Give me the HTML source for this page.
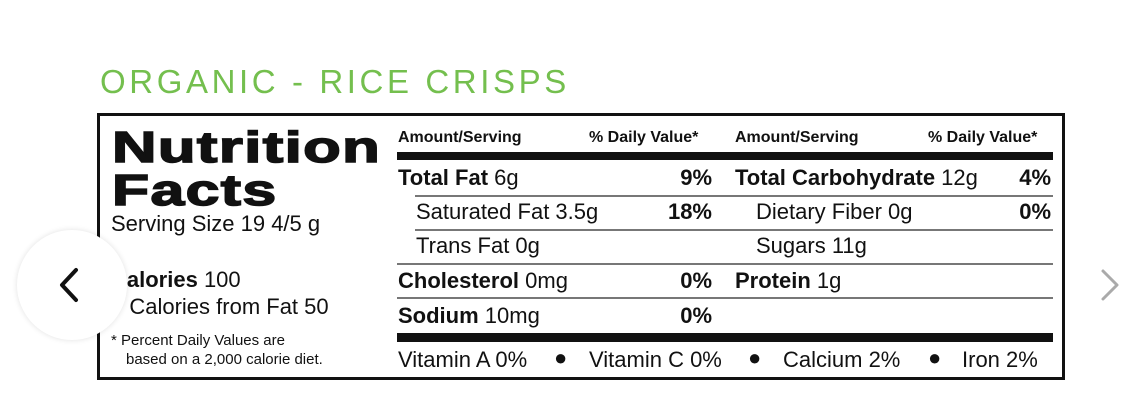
<!DOCTYPE html>
<html><head><meta charset="utf-8"><style>
*{margin:0;padding:0;box-sizing:border-box}
body{width:1142px;height:416px;background:#fff;position:relative;overflow:hidden;font-family:"Liberation Sans Narrow","Liberation Sans",sans-serif;color:#111}
.a{position:absolute;white-space:nowrap;line-height:1}
.t{font-family:"Liberation Sans",sans-serif;font-size:33px;color:#74bf4e;letter-spacing:3.6px;left:100px;top:65px}
.box{position:absolute;left:97px;top:113px;width:968px;height:267px;border:3px solid #111}
.hl{position:absolute;background:#111}
.r{font-size:22px}
.b{font-weight:bold}
.h{font-size:16px;font-weight:bold}
.big{font-family:"Liberation Sans",sans-serif;font-weight:900;font-size:44px;transform-origin:0 0;-webkit-text-stroke:1.5px #111;letter-spacing:1px}
.pr{text-align:right;width:80px}
</style></head><body>
<div class="a t">ORGANIC - RICE CRISPS</div>
<div class="box"></div>
<div class="a big" style="left:112px;top:126px;transform:scaleX(1.40)">Nutrition</div>
<div class="a big" style="left:112px;top:169px;transform:scaleX(1.38)">Facts</div>
<div class="a r" style="left:111px;top:213px">Serving Size 19 4/5 g</div>
<div class="a r" style="left:111px;top:269px"><span class="b">Calories</span> 100</div>
<div class="a r" style="left:111px;top:296px">&nbsp;&nbsp;&nbsp;Calories from Fat 50</div>
<div class="a" style="left:111px;top:333px;font-size:15px">* Percent Daily Values are</div>
<div class="a" style="left:126px;top:352px;font-size:15px">based on a 2,000 calorie diet.</div>

<div class="a h" style="left:398px;top:130px">Amount/Serving</div>
<div class="a h" style="left:589px;top:130px">% Daily Value*</div>
<div class="a h" style="left:735px;top:130px">Amount/Serving</div>
<div class="a h" style="left:928px;top:130px">% Daily Value*</div>
<div class="hl" style="left:397px;top:152px;width:656px;height:8px"></div>

<div class="a r" style="left:398px;top:167px"><span class="b">Total Fat</span> 6g</div>
<div class="a r b pr" style="left:632px;top:167px">9%</div>
<div class="a r" style="left:735px;top:167px"><span class="b">Total Carbohydrate</span> 12g</div>
<div class="a r b pr" style="left:971px;top:167px">4%</div>
<div class="hl" style="left:415px;top:195px;width:638px;height:2px;background:#777"></div>

<div class="a r" style="left:416px;top:201px">Saturated Fat 3.5g</div>
<div class="a r b pr" style="left:632px;top:201px">18%</div>
<div class="a r" style="left:756px;top:201px">Dietary Fiber 0g</div>
<div class="a r b pr" style="left:971px;top:201px">0%</div>
<div class="hl" style="left:415px;top:229px;width:638px;height:2px;background:#777"></div>

<div class="a r" style="left:416px;top:235px">Trans Fat 0g</div>
<div class="a r" style="left:756px;top:235px">Sugars 11g</div>
<div class="hl" style="left:397px;top:263px;width:656px;height:2px;background:#777"></div>

<div class="a r" style="left:398px;top:270px"><span class="b">Cholesterol</span> 0mg</div>
<div class="a r b pr" style="left:632px;top:270px">0%</div>
<div class="a r" style="left:735px;top:270px"><span class="b">Protein</span> 1g</div>
<div class="hl" style="left:397px;top:297px;width:656px;height:2px;background:#777"></div>

<div class="a r" style="left:398px;top:305px"><span class="b">Sodium</span> 10mg</div>
<div class="a r b pr" style="left:632px;top:305px">0%</div>
<div class="hl" style="left:397px;top:333px;width:656px;height:9px"></div>

<div class="a r" style="left:398px;top:349px">Vitamin A 0%</div>
<div class="a r" style="left:554px;top:347px">●</div>
<div class="a r" style="left:589px;top:349px">Vitamin C 0%</div>
<div class="a r" style="left:748px;top:347px">●</div>
<div class="a r" style="left:783px;top:349px">Calcium 2%</div>
<div class="a r" style="left:928px;top:347px">●</div>
<div class="a r" style="left:962px;top:349px">Iron 2%</div>

<div style="position:absolute;left:17px;top:230px;width:110px;height:110px;border-radius:50%;background:#fff;box-shadow:0 0 6px rgba(0,0,0,.12)"></div>
<svg style="position:absolute;left:0;top:0" width="1142" height="416">
<polyline points="76,270 62,285 76,300" fill="none" stroke="#111" stroke-width="4" stroke-linecap="round" stroke-linejoin="round"/>
<polyline points="1103,271 1117,285 1103,299" fill="none" stroke="#aaa" stroke-width="3" stroke-linecap="round" stroke-linejoin="round"/>
</svg>
</body></html>
